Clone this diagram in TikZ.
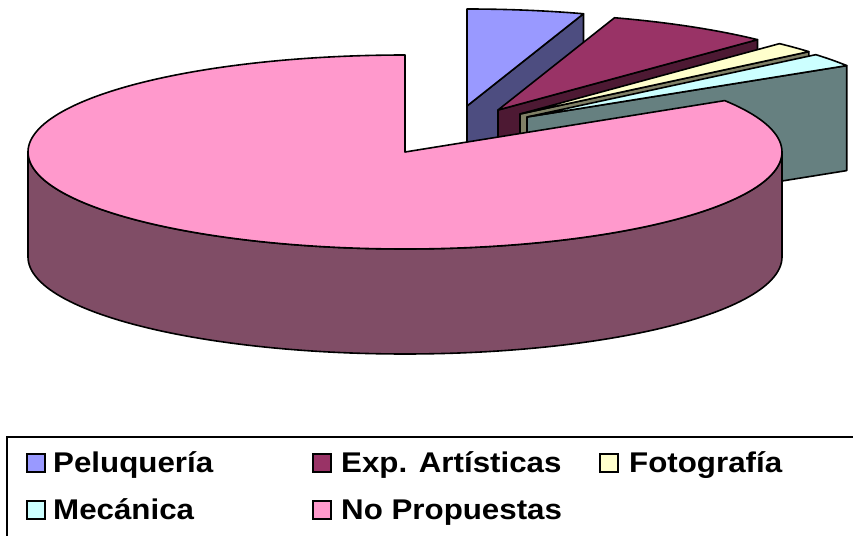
\documentclass[tikz,border=0pt]{standalone}
\usepackage{fontspec}
\setmainfont{Liberation Sans}
\definecolor{peltop}{HTML}{9999FF}
\definecolor{pelside}{HTML}{4D4D80}
\definecolor{exptop}{HTML}{993366}
\definecolor{expside}{HTML}{4D1933}
\definecolor{fototop}{HTML}{FFFFCC}
\definecolor{fotoside}{HTML}{808066}
\definecolor{mectop}{HTML}{CCFFFF}
\definecolor{mecside}{HTML}{668080}
\definecolor{notop}{HTML}{FF99CC}
\definecolor{noside}{HTML}{804D66}
\tikzset{
  face/.style={draw=black, line width=1.6pt, line join=round},
  legbox/.style={draw=black, line width=1.6pt},
  legtext/.style={anchor=base west, inner sep=0pt, font=\fontsize{28.5}{34}\selectfont\bfseries},
}
\newcommand{\rimpt}[3]{({#1+377*cos(#3)},{#2-97*sin(#3)})}
\begin{document}
\begin{tikzpicture}[x=1pt,y=-1pt]
\useasboundingbox (0,0) rectangle (853,535);
% Peluqueria (C=(467,106), 72..90)
\draw[face, fill=pelside] (467,106) -- \rimpt{467}{106}{72} -- ++(0,105) -- (467,211) -- cycle;
\draw[face, fill=peltop] (467,106) -- plot[domain=90:72, samples=30] ({467+377*cos(\x)},{106-97*sin(\x)}) -- cycle;
% Exp. Artisticas (C=(498,110), 46.5..72)
\draw[face, fill=expside] (498,110) -- \rimpt{498}{110}{46.5} -- ++(0,105) -- (498,215) -- cycle;
\draw[face, fill=exptop] (498,110) -- plot[domain=72:46.5, samples=30] ({498+377*cos(\x)},{110-97*sin(\x)}) -- cycle;
% Fotografia (C=(520,114), 40..46.5)
\draw[face, fill=fotoside] (520,114) -- \rimpt{520}{114}{40} -- ++(0,105) -- (520,219) -- cycle;
\draw[face, fill=fototop] (520,114) -- plot[domain=46.5:40, samples=15] ({520+377*cos(\x)},{114-97*sin(\x)}) -- cycle;
% Mecanica (C=(527,117), 32..40)
\draw[face, fill=mecside] (527,117) -- \rimpt{527}{117}{32} -- ++(0,105) -- (527,222) -- cycle;
\draw[face, fill=mectop] (527,117) -- plot[domain=40:32, samples=15] ({527+377*cos(\x)},{117-97*sin(\x)}) -- cycle;
% No Propuestas (C=(405,152), 90..392)
\draw[face, fill=noside] plot[domain=180:360, samples=120] ({405+377*cos(\x)},{152-97*sin(\x)}) -- plot[domain=360:180, samples=120] ({405+377*cos(\x)},{257-97*sin(\x)}) -- cycle;
\draw[face, fill=notop] (405,152) -- plot[domain=90:392, samples=200] ({405+377*cos(\x)},{152-97*sin(\x)}) -- cycle;
% legend
\draw[line width=2pt] (7,545) -- (7,437) -- (860,437);
\draw[legbox, fill=peltop] (27,454) rectangle (45,472);
\node[legtext] (lpel) at (53,472) {\scalebox{1.098}[1]{Peluquería}};
\draw[legbox, fill=exptop] (313,454) rectangle (331,472);
\node[legtext] (lexp) at (341,472) {\scalebox{1.098}[1]{Exp. Artísticas}};
\draw[legbox, fill=fototop] (600,454) rectangle (618,472);
\node[legtext] (lfoto) at (629,472) {\scalebox{1.098}[1]{Fotografía}};
\draw[legbox, fill=mectop] (27,501) rectangle (45,519);
\node[legtext] (lmec) at (53,519) {\scalebox{1.098}[1]{Mecánica}};
\draw[legbox, fill=notop] (313,501) rectangle (331,519);
\node[legtext] (lno) at (341,519) {\scalebox{1.098}[1]{No Propuestas}};
\end{tikzpicture}
\end{document}
